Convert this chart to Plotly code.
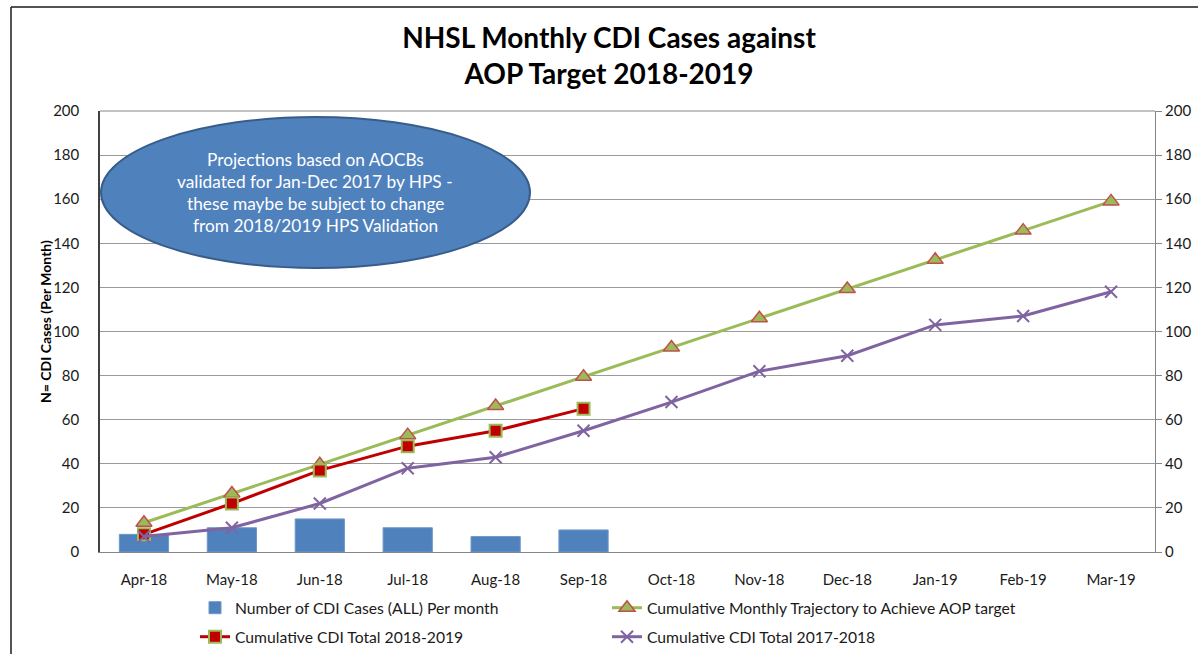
import plotly.graph_objects as go

months = ["Apr-18", "May-18", "Jun-18", "Jul-18", "Aug-18", "Sep-18",
          "Oct-18", "Nov-18", "Dec-18", "Jan-19", "Feb-19", "Mar-19"]
monthly_cases = [8, 11, 15, 11, 7, 10]
trajectory = [13.25, 26.5, 39.75, 53, 66.25, 79.5, 92.75, 106, 119.25, 132.5, 145.75, 159]
cum_2018_19 = [8, 22, 37, 48, 55, 65]
cum_2017_18 = [7, 11, 22, 38, 43, 55, 68, 82, 89, 103, 107, 118]

callout_lines = ["Projections based on AOCBs",
                 "validated for Jan-Dec 2017 by HPS -",
                 "these maybe be subject to change",
                 "from 2018/2019 HPS Validation"]

FONT = "Lato"
W, H = 1198, 654
# plot area in page pixels: x 100..1155, y 111..552
PL, PR, PT, PB = 100, 1155, 111, 552
L, R, T, B = PL, W - PR, PT, H - PB
pw = W - L - R
ph = H - T - B


def px_x(p):                 # page pixel -> paper x
    return (p - L) / pw


def px_y(p):                 # page pixel -> paper y
    return (H - B - p) / ph


fig = go.Figure()
fig.add_trace(go.Bar(
    x=months[:len(monthly_cases)], y=monthly_cases,
    name="Number of CDI Cases (ALL) Per month",
    marker=dict(color="#4F81BD", line=dict(color="#6F97C8", width=1)),
    width=0.56, legend="legend"))
fig.add_trace(go.Scatter(
    x=months, y=trajectory, mode="lines+markers",
    name="Cumulative Monthly Trajectory to Achieve AOP target",
    line=dict(color="#9BBB59", width=3),
    marker=dict(symbol="triangle-up", size=14, color="#9BBB59",
                line=dict(color="#C0504D", width=1.5)),
    legend="legend"))
fig.add_trace(go.Scatter(
    x=months[:len(cum_2018_19)], y=cum_2018_19, mode="lines+markers",
    name="Cumulative CDI Total 2018-2019",
    line=dict(color="#C00000", width=3),
    marker=dict(symbol="square", size=12, color="#C00000",
                line=dict(color="#9BBB59", width=2)),
    legend="legend2"))
fig.add_trace(go.Scatter(
    x=months, y=cum_2017_18, mode="lines+markers",
    name="Cumulative CDI Total 2017-2018",
    line=dict(color="#8064A2", width=3),
    marker=dict(symbol="x-thin", size=12, color="#8064A2",
                line=dict(color="#8064A2", width=2)),
    legend="legend2"))
# invisible trace to activate the secondary y axis
fig.add_trace(go.Scatter(x=months, y=cum_2017_18, yaxis="y2", mode="lines",
                         line=dict(width=0), showlegend=False, hoverinfo="skip",
                         opacity=0))

legend_common = dict(orientation="h", xanchor="left", yanchor="middle",
                     font=dict(family=FONT, size=15.7, color="#1a1a1a"),
                     entrywidth=367, entrywidthmode="pixels",
                     bgcolor="rgba(0,0,0,0)", traceorder="normal")

fig.update_layout(
    width=W, height=H,
    margin=dict(l=L, r=R, t=T, b=B, autoexpand=False),
    paper_bgcolor="white", plot_bgcolor="white",
    font=dict(family=FONT, size=15, color="#1a1a1a"),
    title=dict(text="<b>NHSL Monthly CDI Cases against<br>AOP Target 2018-2019</b>",
               x=609 / W, xanchor="center", y=1 - 48 / H, yanchor="middle",
               font=dict(family=FONT, size=28, color="black")),
    xaxis=dict(type="category", categoryorder="array", categoryarray=months,
               showgrid=False, showline=True, linecolor="#868686", linewidth=1,
               ticks="", ticklabelstandoff=14,
               tickfont=dict(family=FONT, size=15, color="#1a1a1a"),
               range=[-0.5, 11.5], mirror=False, automargin=False),
    yaxis=dict(range=[0, 200], dtick=20, showgrid=True, gridcolor="#9a9a9a",
               gridwidth=1, showline=True, linecolor="#404040", linewidth=1.5,
               ticks="", ticklabelstandoff=16, zeroline=False, automargin=False,
               tickfont=dict(family=FONT, size=15, color="#1a1a1a")),
    yaxis2=dict(range=[0, 200], dtick=20, overlaying="y", side="right",
                showgrid=False, showline=True, linecolor="#868686", linewidth=1,
                ticks="outside", ticklen=6, tickcolor="#868686", zeroline=False,
                automargin=False,
                tickfont=dict(family=FONT, size=15, color="#1a1a1a")),
    legend=dict(x=px_x(195), y=px_y(608), **legend_common),
    legend2=dict(x=px_x(195), y=px_y(637), **legend_common),
    showlegend=True,
)

# y-axis title
fig.add_annotation(xref="paper", yref="paper", x=px_x(45), y=px_y(322),
                   text="<b>N= CDI Cases (Per Month)</b>", textangle=-90,
                   showarrow=False, xanchor="center", yanchor="middle",
                   font=dict(family=FONT, size=14, color="black"))

# plot area top border
fig.add_shape(type="line", xref="paper", yref="paper", x0=0, x1=1, y0=1, y1=1,
              line=dict(color="#868686", width=1))
# outer chart border
fig.add_shape(type="line", xref="paper", yref="paper",
              x0=px_x(11), x1=px_x(11), y0=px_y(7), y1=px_y(700),
              line=dict(color="#1a1a1a", width=1.5))
fig.add_shape(type="line", xref="paper", yref="paper",
              x0=px_x(11), x1=px_x(1250), y0=px_y(7), y1=px_y(7),
              line=dict(color="#1a1a1a", width=1.5))

# ellipse callout
fig.add_shape(type="circle", xref="paper", yref="paper",
              x0=px_x(101), x1=px_x(530), y0=px_y(268), y1=px_y(117),
              fillcolor="#4F81BD", line=dict(color="#385D8A", width=2), layer="above")
for i, line in enumerate(callout_lines):
    fig.add_annotation(
        xref="paper", yref="paper", x=px_x(315), y=px_y(159 + 22 * i),
        text=line, showarrow=False, align="center", xanchor="center", yanchor="middle",
        font=dict(family=FONT, size=17.3, color="white"))

fig.write_html("out.html",
               config={"displayModeBar": False},
               post_script="document.body.style.margin='0';"
                           "document.body.style.overflow='hidden';")
